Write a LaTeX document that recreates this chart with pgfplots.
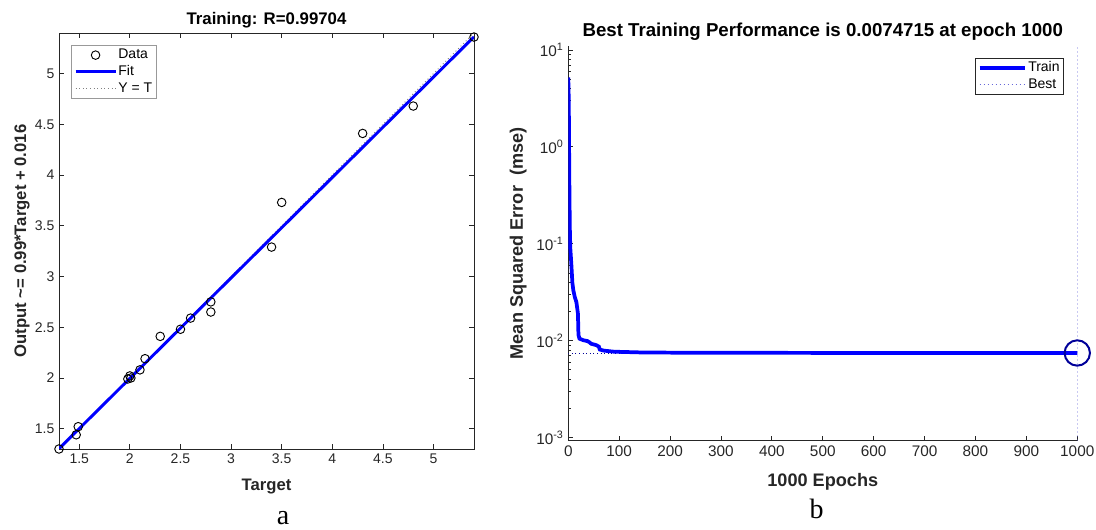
\documentclass[border=0pt]{standalone}
\usepackage{fontspec}
\setmainfont{Liberation Sans}
\newfontfamily\capfont{Liberation Serif}
\usepackage{pgfplots}
\pgfplotsset{compat=1.18}

\definecolor{mlaxis}{rgb}{0.15,0.15,0.15}
\definecolor{mlblue}{rgb}{0,0,1}
\definecolor{mlbest}{rgb}{0.4,0.4,0.85}
\definecolor{mlnavy}{rgb}{0,0,0.6}

\pgfplotsset{
  mlstyle/.style={
    scale only axis, anchor=south west, clip mode=individual,
    axis line style={mlaxis, line width=0.6pt}, tick style={mlaxis, line width=0.6pt},
    major tick length=3.75pt, minor tick length=2.2pt, tick align=inside,
    ticklabel style={font=\fontsize{10.5}{12}\selectfont, text=mlaxis},
    /pgf/number format/assume math mode=true,
    /pgf/number format/1000 sep={},
    label style={font=\bfseries\fontsize{12.5}{14}\selectfont, text=mlaxis, anchor=center},
    legend style={font=\fontsize{10.5}{12}\selectfont, line width=0.6pt,
      inner xsep=2pt, inner ysep=1pt, row sep=0pt,
      nodes={text height=8pt, text depth=2.5pt, inner sep=1pt}},
    legend cell align=left,
  },
  mlline/.style={legend image code/.code={\draw[##1] (0pt,0pt) -- (#1,0pt);}},
  mlmark/.style={legend image code/.code={\draw[##1] plot coordinates {(#1,0pt)};}},
}
\tikzset{mltitle/.style={anchor=center, font=\bfseries\fontsize{#1}{16}\selectfont}}

\begin{document}
\begin{tikzpicture}
\useasboundingbox (0pt,0pt) rectangle (822pt,397.5pt);

% ---- a: regression ----
\begin{axis}[mlstyle, at={(44.25pt,60.75pt)}, width=311.25pt, height=312pt,
  xmin=1.3, xmax=5.4, ymin=1.3, ymax=5.4,
  xtick={1.5,2,2.5,3,3.5,4,4.5,5}, ytick={1.5,2,2.5,3,3.5,4,4.5,5},
  xlabel={Target}, xlabel style={at={(axis description cs:0.5,-0.0906)}},
  ylabel={Output \textasciitilde= 0.99*Target + 0.016},
  ylabel style={at={(axis description cs:-0.0892,0.5)}},
  legend style={at={(0.029,0.971)}, anchor=north west, draw=gray!80},
]
\addlegendimage{only marks, mark=o, mark size=3.2pt, black, line width=0.7pt, mlmark=15pt}
\addlegendentry{Data}
\addlegendimage{mlblue, line width=2.2pt, mlline=30pt}
\addlegendentry{Fit}
\addlegendimage{gray, dotted, line width=0.7pt, mlline=30pt}
\addlegendentry{Y = T}

\addplot[gray, dotted, line width=0.7pt, forget plot] coordinates {(1.3,1.3) (5.4,5.4)};
\addplot[mlblue, line width=2.2pt, forget plot] coordinates {(1.3,1.303) (5.4,5.362)};
\addplot[only marks, mark=o, mark size=3.2pt, black, line width=0.7pt, forget plot] coordinates {
  (1.30,1.30) (1.47,1.44) (1.49,1.52) (1.98,1.99) (2.00,2.02) (2.01,2.00)
  (2.10,2.08) (2.15,2.19) (2.30,2.41) (2.50,2.48) (2.60,2.59) (2.80,2.75)
  (2.80,2.65) (3.40,3.29) (3.50,3.73) (4.30,4.41) (4.80,4.68) (5.40,5.36)
};
\node[mltitle=12.6] at (axis description cs:0.5,1.0313) {Training: R=0.99704};
\end{axis}

% ---- b: performance ----
\begin{axis}[mlstyle, at={(426.2pt,67pt)}, width=381.75pt, height=296pt,
  ymode=log, xmin=0, xmax=1000, ymin=0.00093, ymax=11,
  axis x line*=bottom, axis y line*=left, tick align=inside,
  ticklabel style={font=\fontsize{11.5}{13}\selectfont},
  label style={font=\bfseries\fontsize{13.6}{16}\selectfont},
  xtick={0,100,...,1000}, ytick={0.001,0.01,0.1,1,10},
  yticklabels={10\textsuperscript{-3},10\textsuperscript{-2},10\textsuperscript{-1},10\textsuperscript{0},10\textsuperscript{1}},
  xlabel={1000 Epochs}, xlabel style={at={(axis description cs:0.5,-0.1039)}},
  ylabel={Mean Squared Error\ \ (mse)},
  ylabel style={at={(axis description cs:-0.0982,0.5)}},
  legend style={at={(0.974,0.97)}, anchor=north east, draw=mlaxis},
]
\addplot[mlnavy, dotted, line width=0.7pt, forget plot] coordinates {(0,0.0074715) (1000,0.0074715)};
\addplot[mlblue, line width=2.8pt, mlline=34pt] coordinates {
  (0,5.2) (1,3.0) (2,0.5) (3,0.15) (4,0.09) (5,0.075) (6,0.062) (7,0.05)
  (8,0.040) (10,0.033) (13,0.028) (16,0.025) (19,0.019) (20,0.0115)
  (22,0.0105) (30,0.0101) (38,0.0099) (42,0.0096) (45,0.0093) (55,0.0090)
  (60,0.0087) (62,0.0081) (70,0.0079) (90,0.0077) (150,0.00755)
  (300,0.0075) (600,0.00748) (1000,0.0074715)
};
\addlegendentry{Train}
\addplot[mlbest, dotted, line width=1pt, mlline=34pt] coordinates {(1000,0.00093) (1000,11)};
\addlegendentry{Best}
\addplot[only marks, mark=o, mark size=9.5pt, mlnavy, line width=1.5pt, forget plot] coordinates {(1000,0.0074715)};
\node[mltitle=14] at (axis description cs:0.5,1.0362) {Best Training Performance is 0.0074715 at epoch 1000};
\end{axis}

\node[anchor=base, font=\capfont\fontsize{21}{24}\selectfont] at (212.25pt,3.75pt) {a};
\node[anchor=base, font=\capfont\fontsize{21}{24}\selectfont] at (612.5pt,8.8pt) {b};
\end{tikzpicture}
\end{document}
